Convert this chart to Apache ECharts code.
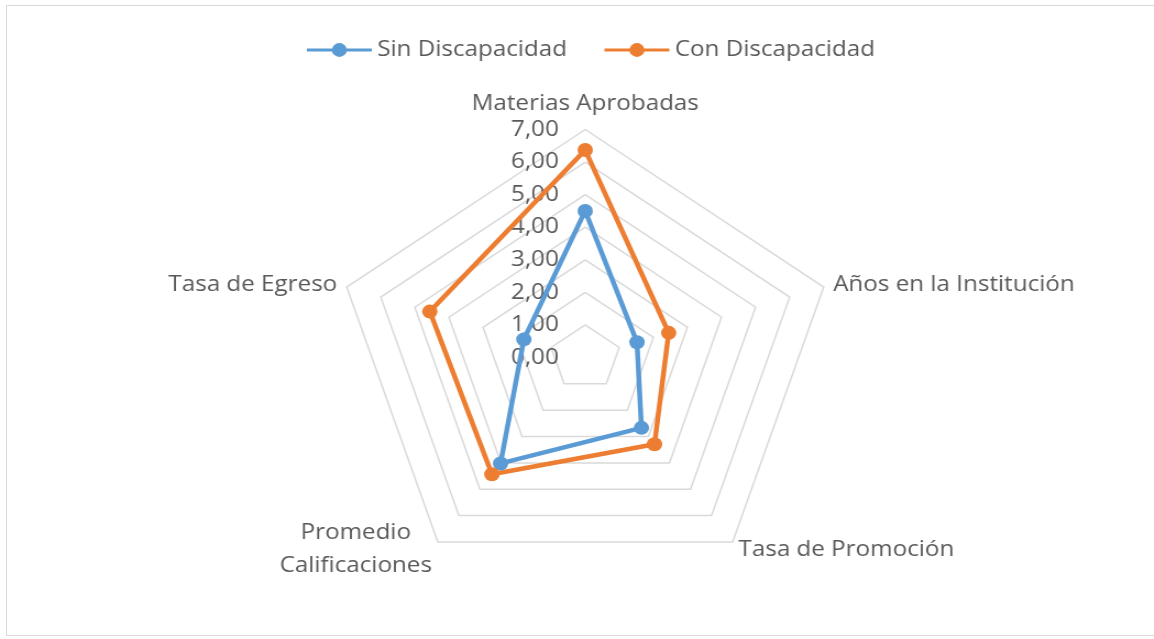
<!DOCTYPE html>
<html>
<head>
<meta charset="utf-8">
<script src="https://cdn.jsdelivr.net/npm/echarts@6/dist/echarts.min.js"></script>
<style>
  html, body { margin: 0; padding: 0; background: #fff; overflow: hidden; }
  #frame {
    position: absolute; left: 6px; top: 5px; width: 1160px; height: 631px;
    border: 1px solid #d9d9d9; box-sizing: border-box;
  }
  #chart {
    position: absolute; left: 0; top: 0; width: 1049px; height: 639px;
    transform: scaleX(1.1); transform-origin: 0 0;
  }
</style>
</head>
<body>
<div id="frame"></div>
<div id="chart"></div>
<script>
  // ejes en el orden en que ECharts los reparte (antihorario desde arriba)
  var indicadores = ['Materias Aprobadas', 'Tasa de Egreso', 'Promedio\nCalificaciones', 'Tasa de Promoción', 'Años en la Institución'];
  var sinDiscapacidad = [4.50, 1.80, 4.02, 2.67, 1.52];
  var conDiscapacidad = [6.37, 4.56, 4.43, 3.29, 2.45];
  var escalaMax = 7;
  var series = ['Sin Discapacidad', 'Con Discapacidad'];
  var colores = ['#5b9bd5', '#ed7d31'];

  var chart = echarts.init(document.getElementById('chart'));
  var font = '"Open Sans", sans-serif';
  var textGray = '#595959';
  var legendIcon = 'path://M0,5.5H60V8.5H0Z M23,7A7,7 0 1,1 37,7A7,7 0 1,1 23,7Z';

  chart.setOption({
    backgroundColor: 'transparent',
    animation: false,
    legend: {
      top: 34,
      left: 274,
      itemWidth: 59,
      itemHeight: 14,
      itemGap: 34,
      icon: legendIcon,
      data: series,
      textStyle: { color: textGray, fontSize: 22, fontFamily: font }
    },
    radar: {
      center: [532, 357.5],
      radius: 228,
      startAngle: 90,
      shape: 'polygon',
      splitNumber: 7,
      nameGap: 9,
      axisName: {
        color: textGray, fontSize: 22, fontFamily: font,
        formatter: function (name) {
          return name.split('\n').map(function (s) { return '{c|' + s + '}'; }).join('\n');
        },
        rich: { c: { align: 'center', lineHeight: 33, color: textGray, fontSize: 22, fontFamily: font } }
      },
      indicator: indicadores.map(function (n, i) {
        var ind = { name: n, min: 0, max: escalaMax };
        if (i === 0) {
          ind.axisLabel = {
            show: true,
            margin: 24,
            color: textGray,
            fontSize: 22,
            fontFamily: font,
            formatter: function (v) { return v.toFixed(2).replace('.', ','); }
          };
        }
        return ind;
      }),
      axisLine: { show: false },
      axisTick: { show: false },
      axisLabel: { show: false },
      splitArea: { show: false },
      splitLine: { lineStyle: { color: '#d9d9d9', width: 1.5 } }
    },
    series: [{
      type: 'radar',
      symbol: 'circle',
      symbolSize: 14,
      data: [
        { name: series[0], value: sinDiscapacidad,
          lineStyle: { color: colores[0], width: 4.5 }, itemStyle: { color: colores[0] } },
        { name: series[1], value: conDiscapacidad,
          lineStyle: { color: colores[1], width: 4.5 }, itemStyle: { color: colores[1] } }
      ]
    }]
  });
</script>
</body>
</html>
